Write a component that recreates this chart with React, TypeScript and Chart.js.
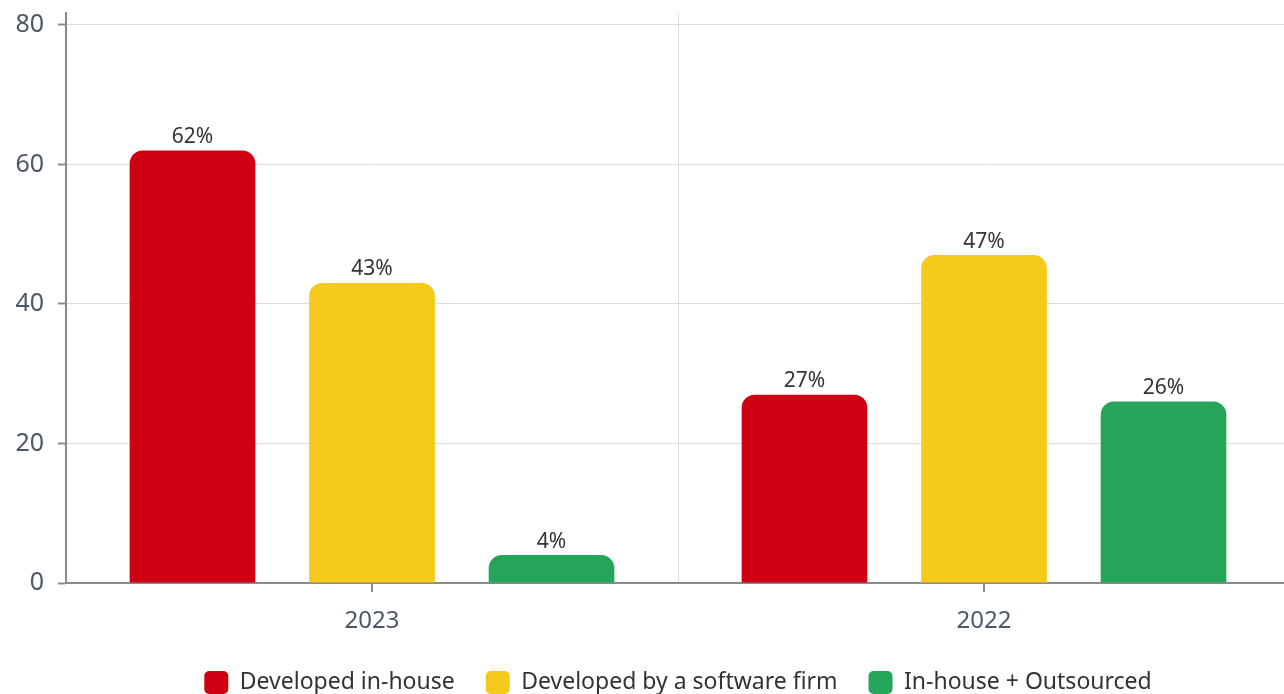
import React, { useEffect, useRef } from "react";
import { Chart, registerables } from "chart.js";

Chart.register(...registerables);

const categories = ["2023", "2022"];
const seriesNames = ["Developed in-house", "Developed by a software firm", "In-house + Outsourced"];
const inHouse = [62, 27];
const softwareFirm = [43, 47];
const mixed = [4, 26];
const yTicks = [0, 20, 40, 60, 80];

const colors = ["#CF0011", "#F5CA1B", "#25A55A"];
const FONT = "'Noto Sans', sans-serif";

const valueLabels = {
  id: "valueLabels",
  afterDatasetsDraw(chart: any) {
    const ctx = chart.ctx;
    ctx.save();
    ctx.font = `21px ${FONT}`;
    ctx.fillStyle = "#333333";
    ctx.textAlign = "center";
    ctx.textBaseline = "bottom";
    chart.data.datasets.forEach((ds: any, i: number) => {
      const meta = chart.getDatasetMeta(i);
      meta.data.forEach((bar: any, j: number) => {
        ctx.fillText(`${ds.data[j]}%`, bar.x, bar.y - 3);
      });
    });
    ctx.restore();
  },
};

const centerTicks = {
  id: "centerTicks",
  afterDraw(chart: any) {
    const ctx = chart.ctx;
    const x = chart.scales.x;
    const y0 = chart.chartArea.bottom;
    ctx.save();
    ctx.strokeStyle = "#8a8a8a";
    ctx.lineWidth = 2;
    categories.forEach((_, i) => {
      const px = x.getPixelForValue(i);
      ctx.beginPath();
      ctx.moveTo(px, y0);
      ctx.lineTo(px, y0 + 9);
      ctx.stroke();
    });
    ctx.restore();
  },
};

export default function App() {
  const ref = useRef<HTMLCanvasElement>(null);
  useEffect(() => {
    document.body.style.margin = "0";
    document.body.style.overflow = "hidden";
    const chart = new Chart(ref.current!, {
      type: "bar",
      data: {
        labels: categories,
        datasets: [inHouse, softwareFirm, mixed].map((d, i) => ({
          label: seriesNames[i],
          data: d,
          backgroundColor: colors[i],
          borderRadius: 13,
          borderSkipped: "start",
          barPercentage: 0.7,
          categoryPercentage: 0.88,
        })),
      },
      options: {
        animation: false,
        responsive: true,
        maintainAspectRatio: false,
        layout: { padding: { top: 13, right: 10, left: 0, bottom: -10 } },
        plugins: {
          tooltip: { enabled: false },
          legend: {
            position: "bottom",
            fullSize: false,
            labels: {
              font: { family: FONT, size: 23 },
              color: "#333333",
              boxWidth: 24,
              boxHeight: 23,
              useBorderRadius: true,
              borderRadius: 5,
              padding: 31,
            },
          },
        },
        scales: {
          x: {
            grid: { color: "#dcdcdc", lineWidth: 1, drawTicks: false, offset: true },
            border: { color: "#8a8a8a", width: 2 },
            ticks: { font: { family: FONT, size: 24 }, color: "#4b5866", padding: 24 },
            afterFit: (s: any) => { s.height = 57; s.paddingLeft = 0; s.paddingRight = 0; },
          },
          y: {
            min: 0,
            max: 81.7,
            grid: { color: "#dcdcdc", lineWidth: 1, tickLength: 8, tickColor: "#8a8a8a", tickWidth: 2 },
            border: { color: "#8a8a8a", width: 2 },
            afterBuildTicks: (s: any) => { s.ticks = yTicks.map((v) => ({ value: v })); },
            ticks: { font: { family: FONT, size: 25 }, color: "#4b5866", padding: 14 },
            afterFit: (s: any) => { s.width = 66; s.paddingTop = 0; s.paddingBottom = 0; },
          },
        },
      },
      plugins: [valueLabels, centerTicks],
    });
    return () => chart.destroy();
  }, []);
  return (
    <div style={{ position: "fixed", left: 0, top: 0, width: 1284, height: 694, overflow: "hidden" }}>
      <div style={{ width: 1300, height: 694, position: "relative" }}>
        <canvas ref={ref} />
      </div>
    </div>
  );
}
